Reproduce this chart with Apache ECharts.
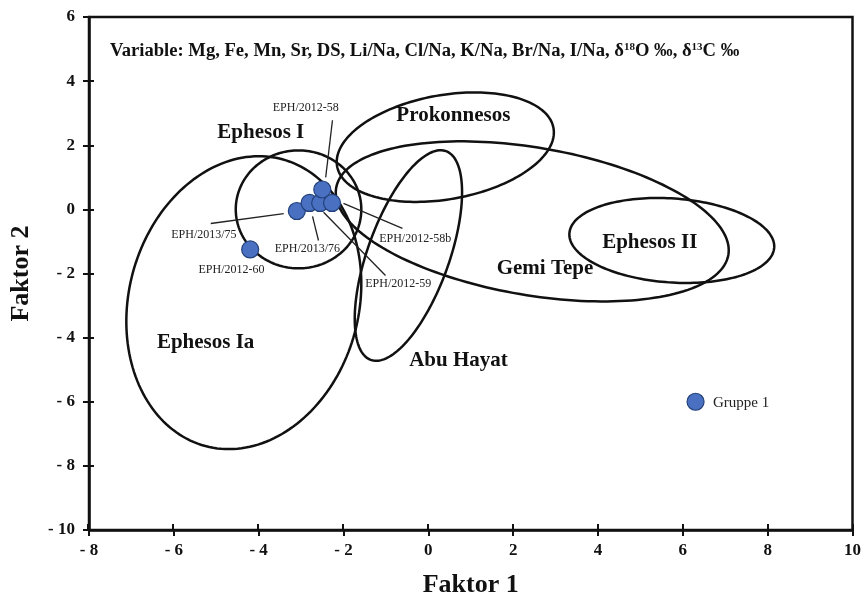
<!DOCTYPE html>
<html>
<head>
<meta charset="utf-8">
<script src="https://cdn.jsdelivr.net/npm/echarts@6/dist/echarts.min.js"></script>
<style>
  html, body { margin: 0; padding: 0; background: #fff; }
  #chart { width: 864px; height: 605px; }
</style>
</head>
<body>
<div id="chart"></div>
<script>
// Messpunkte (Faktor 1 / Faktor 2)
const pointNames = ['EPH/2012-60', 'EPH/2013/75', 'EPH/2013/76', 'EPH/2012-59', 'EPH/2012-58', 'EPH/2012-58b', 'Gruppe 1'];
const pointX = [-4.2, -3.1, -2.8, -2.55, -2.5, -2.27, 6.3];
const pointY = [-1.25, -0.05, 0.2, 0.2, 0.62, 0.2, -6.0];

// Beschriftung der Punkte (Ankerpunkt in Achseneinheiten)
const labelX = [-4.64, -5.29, -2.85, -0.71, -2.89, -0.31, 6.71];
const labelY = [-1.88, -0.78, -1.22, -2.31, 3.16, -0.91, -6.03];

// Hinweislinien: [x1, y1, x2, y2]
const leaderLines = [
    [-5.13, -0.44, -3.41, -0.13],
    [-2.73, -0.22, -2.59, -0.97],
    [-2.47, -0.09, -1.01, -2.06],
    [-2.26, 2.78, -2.42, 1.0],
    [-2.0, 0.19, -0.61, -0.59]
];

// Ellipsen der Gruppen
const groupNames = ['Ephesos Ia', 'Ephesos I', 'Prokonnesos', 'Gemi Tepe', 'Ephesos II', 'Abu Hayat'];
const groupCenterX = [-4.35, -3.06, 0.40, 2.45, 5.74, -0.47];
const groupCenterY = [-2.91, 0.0, 1.94, -0.375, -0.97, -1.44];
const groupHalfX = [2.71, 1.48, 2.59, 4.69, 2.42, 0.96];
const groupHalfY = [4.63, 1.84, 1.625, 2.30, 1.31, 3.46];
const groupTilt = [15, 0, -10, 9.7, 4, 19.8];
const groupLabelX = [-5.25, -3.95, 0.59, 2.75, 5.22, 0.71];
const groupLabelY = [-4.16, 2.41, 2.91, -1.84, -1.03, -4.72];

// Achsen
const xMin = -8, xMax = 10, xStep = 2;
const yMin = -10, yMax = 6, yStep = 2;

const serif = '"Liberation Serif", "DejaVu Serif", serif';

function tickText(v) {
    return v < 0 ? '- ' + Math.abs(v) : String(v);
}

const chart = echarts.init(document.getElementById('chart'));

const axisX = {
    type: 'value', min: xMin, max: xMax, interval: xStep,
    splitLine: { show: false }
};
const axisY = {
    type: 'value', min: yMin, max: yMax, interval: yStep,
    splitLine: { show: false }
};

chart.setOption({
    backgroundColor: '#fff',
    animation: false,
    title: {
        left: 105, top: 37,
        text: '{b|Variable: Mg, Fe, Mn, Sr, DS, Li/Na, Cl/Na, K/Na, Br/Na, I/Na, δ}{s|18}{b|O ‰, δ}{s|13}{b|C ‰}',
        textStyle: {
            rich: {
                b: { fontFamily: serif, fontWeight: 'bold', fontSize: 18.6, color: '#111' },
                s: { fontFamily: serif, fontWeight: 'bold', fontSize: 11, color: '#111', verticalAlign: 'top', padding: [0, 0, 7, 0] }
            }
        }
    },
    grid: [
        { left: 88, right: 11, top: 17, bottom: 75, show: true, borderColor: '#111', borderWidth: 2.5 },
        { left: 88, right: 11, top: 17, bottom: 75 }
    ],
    xAxis: [
        Object.assign({}, axisX, {
            gridIndex: 0,
            name: 'Faktor 1', nameLocation: 'middle', nameGap: 42,
            nameTextStyle: { fontFamily: serif, fontWeight: 'bold', fontSize: 26, color: '#111' },
            axisLine: { onZero: false, lineStyle: { color: '#111', width: 2.5 } },
            axisTick: { length: 6, lineStyle: { color: '#111', width: 2 } },
            axisLabel: { fontFamily: serif, fontWeight: 'bold', fontSize: 17, color: '#111', margin: 12, formatter: tickText }
        }),
        Object.assign({}, axisX, {
            gridIndex: 1,
            axisLine: { show: false, onZero: false },
            axisTick: { inside: true, length: 6, lineStyle: { color: '#111', width: 2 } },
            axisLabel: { show: false }
        })
    ],
    yAxis: [
        Object.assign({}, axisY, {
            gridIndex: 0,
            name: 'Faktor 2', nameLocation: 'middle', nameGap: 55, nameRotate: 90,
            nameTextStyle: { fontFamily: serif, fontWeight: 'bold', fontSize: 26, color: '#111' },
            axisLine: { onZero: false, lineStyle: { color: '#111', width: 2.5 } },
            axisTick: { length: 6, lineStyle: { color: '#111', width: 2 } },
            axisLabel: { fontFamily: serif, fontWeight: 'bold', fontSize: 17, color: '#111', margin: 14, formatter: tickText }
        }),
        Object.assign({}, axisY, {
            gridIndex: 1,
            axisLine: { show: false, onZero: false },
            axisTick: { inside: true, length: 6, lineStyle: { color: '#111', width: 2 } },
            axisLabel: { show: false }
        })
    ],
    series: [
        {
            name: 'Gruppen',
            type: 'custom',
            coordinateSystem: 'cartesian2d',
            silent: true,
            z: 2,
            data: groupNames.map((n, i) => [groupCenterX[i], groupCenterY[i], groupHalfX[i], groupHalfY[i], groupTilt[i]]),
            renderItem(params, api) {
                const i = params.dataIndex;
                const c = api.coord([api.value(0), api.value(1)]);
                const rx = api.size([api.value(2), 0])[0];
                const ry = api.size([0, api.value(3)])[1];
                const t = api.value(4) * Math.PI / 180;
                const pts = [];
                for (let k = 0; k < 180; k++) {
                    const a = k / 180 * Math.PI * 2;
                    const x = rx * Math.cos(a), y = ry * Math.sin(a);
                    pts.push([c[0] + x * Math.cos(t) - y * Math.sin(t), c[1] + x * Math.sin(t) + y * Math.cos(t)]);
                }
                const lp = api.coord([groupLabelX[i], groupLabelY[i]]);
                return {
                    type: 'group',
                    children: [
                        { type: 'polygon', shape: { points: pts }, style: { fill: 'none', stroke: '#111', lineWidth: 2.5 } },
                        { type: 'text', x: lp[0], y: lp[1], style: {
                            text: groupNames[i], align: 'center', verticalAlign: 'middle',
                            font: 'bold 21px ' + serif, fill: '#111'
                        } }
                    ]
                };
            }
        },
        {
            name: 'Linien',
            type: 'custom',
            coordinateSystem: 'cartesian2d',
            silent: true,
            z: 3,
            data: leaderLines,
            renderItem(params, api) {
                const a = api.coord([api.value(0), api.value(1)]);
                const b = api.coord([api.value(2), api.value(3)]);
                return { type: 'line', shape: { x1: a[0], y1: a[1], x2: b[0], y2: b[1] }, style: { stroke: '#222', lineWidth: 1.3 } };
            }
        },
        {
            name: 'Proben',
            type: 'scatter',
            z: 5,
            symbolSize: 17,
            itemStyle: { color: '#4a70c2', borderColor: '#22407a', borderWidth: 1.2, opacity: 1 },
            data: pointX.map((x, i) => [x, pointY[i]])
        },
        {
            name: 'Beschriftung',
            type: 'custom',
            coordinateSystem: 'cartesian2d',
            silent: true,
            z: 6,
            data: pointNames.map((n, i) => [labelX[i], labelY[i]]),
            renderItem(params, api) {
                const i = params.dataIndex;
                const p = api.coord([api.value(0), api.value(1)]);
                const last = i === pointNames.length - 1;
                return { type: 'text', x: p[0], y: p[1], style: {
                    text: pointNames[i], align: last ? 'left' : 'center', verticalAlign: 'middle',
                    font: (last ? '15px ' : '12px ') + serif, fill: '#222'
                } };
            }
        }
    ]
});
</script>
</body>
</html>
